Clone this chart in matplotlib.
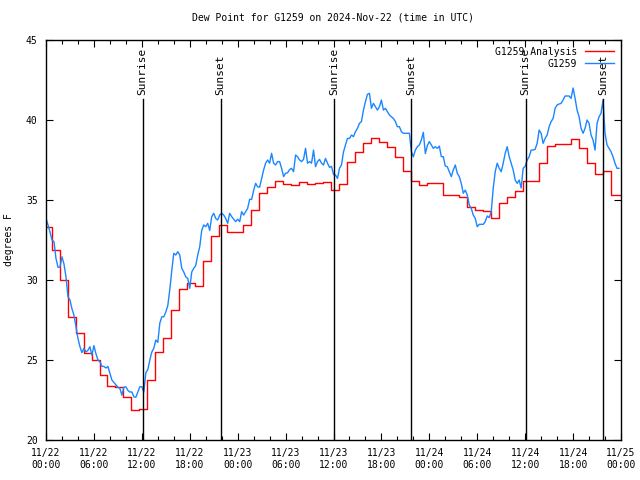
import pandas as pd
import matplotlib
matplotlib.use("Agg")
import matplotlib.pyplot as plt
import matplotlib.dates as mdates
import matplotlib.transforms as mtransforms

# G1259 station dew point, one reading every 15 minutes from 2024-11-22 00:00 UTC
station_dewpoint = [
    33.85, 33.44, 33.0, 32.5, 32.4, 31.35, 30.8, 30.8, 31.45, 31.0, 30.2, 28.96,
    28.75, 28.2, 27.8, 27.1, 26.35, 25.83, 25.46, 25.73, 25.5, 25.6, 25.83, 25.3,
    25.9, 25.4, 25.0, 24.9, 24.6, 24.6, 24.5, 24.6, 24.17, 23.75, 23.6, 23.44,
    23.3, 23.23, 22.8, 23.3, 23.33, 23.1, 23.0, 23.0, 22.7, 22.67, 23.0, 23.33,
    23.33, 23.0, 24.2, 24.4, 25.0, 25.5, 25.73, 26.25, 26.1, 27.3, 27.7, 27.7,
    28.0, 28.4, 29.4, 30.6, 31.67, 31.56, 31.77, 31.56, 30.73, 30.5, 30.2, 30.1,
    29.48, 30.5, 30.73, 30.9, 31.56, 32.08, 33.1, 33.44, 33.33, 33.54, 33.1, 33.96,
    34.17, 33.85, 33.75, 34.06, 34.17, 34.06, 33.85, 33.54, 34.17, 33.96, 33.8, 33.65,
    33.8, 33.65, 34.27, 34.06, 34.27, 34.48, 35.04, 35.04, 35.6, 36.04, 35.83, 35.8,
    36.35, 36.88, 37.3, 37.5, 37.3, 37.92, 37.3, 37.19, 37.4, 37.4, 36.98, 36.46,
    36.67, 36.7, 36.9, 36.98, 36.77, 37.81, 37.7, 37.5, 37.4, 37.54, 38.23, 37.3,
    37.4, 37.3, 38.12, 37.08, 37.4, 37.54, 37.3, 37.19, 37.6, 37.3, 37.04, 37.1,
    36.6, 36.56, 36.35, 36.98, 37.19, 38.0, 38.44, 38.85, 38.85, 39.06, 38.96, 39.27,
    39.48, 39.79, 39.9, 40.62, 41.15, 41.6, 41.67, 40.73, 41.04, 40.83, 40.62, 40.83,
    41.25, 40.62, 40.73, 40.52, 40.31, 40.2, 40.1, 39.9, 39.58, 39.58, 39.27, 39.17,
    39.17, 39.17, 39.17, 38.02, 37.7, 38.12, 38.33, 38.44, 38.75, 39.23, 37.9, 38.4,
    38.65, 38.44, 38.23, 38.33, 38.23, 38.37, 37.71, 37.71, 37.12, 37.08, 36.77, 36.46,
    36.88, 37.19, 36.67, 36.46, 36.04, 35.42, 35.62, 35.31, 34.69, 34.48, 34.06, 33.85,
    33.33, 33.48, 33.48, 33.48, 33.65, 34.0, 33.9, 34.27, 35.73, 36.77, 37.3, 36.98,
    36.77, 37.3, 37.92, 38.33, 37.71, 37.3, 36.88, 36.25, 36.04, 36.25, 35.75, 36.98,
    37.1, 37.5, 37.7, 38.12, 38.12, 38.17, 38.54, 39.37, 39.17, 38.54, 38.85, 39.06,
    39.58, 39.9, 40.1, 40.73, 40.94, 41.0, 41.04, 41.25, 41.5, 41.5, 41.5, 41.35,
    42.0, 41.35, 40.62, 40.2, 39.48, 39.17, 39.48, 40.0, 39.79, 39.06, 38.75, 38.12,
    39.79, 40.2, 40.42, 41.25, 39.17, 38.44, 38.23, 38.02, 37.7, 37.3, 36.98, 36.98,
]

# hourly analysis values (each holds until the next one)
analysis_dewpoint = [
    33.3, 31.9, 30.0, 27.7, 26.7, 25.45, 25.0, 24.05, 23.4, 23.3, 22.7, 21.9,
    21.95, 23.75, 25.5, 26.4, 28.1, 29.45, 29.8, 29.6, 31.2, 32.75, 33.45, 33.0,
    33.0, 33.45, 34.4, 35.45, 35.8, 36.2, 36.0, 35.95, 36.1, 36.0, 36.05, 36.1,
    35.6, 36.0, 37.4, 37.98, 38.54, 38.9, 38.6, 38.33, 37.7, 36.8, 36.2, 35.94,
    36.08, 36.04, 35.3, 35.3, 35.2, 34.58, 34.4, 34.3, 33.9, 34.83, 35.19, 35.56,
    36.2, 36.2, 37.3, 38.375, 38.5, 38.5, 38.8, 38.23, 37.33, 36.6, 36.83, 35.3,
    35.3,
]

sunrise_times = ["2024-11-22 12:06", "2024-11-23 12:04", "2024-11-24 12:04"]
sunset_times = ["2024-11-22 21:52", "2024-11-23 21:46", "2024-11-24 21:44"]

station_times = pd.date_range("2024-11-22 00:00", periods=len(station_dewpoint), freq="15min")
analysis_times = pd.date_range("2024-11-21 23:42", periods=len(analysis_dewpoint), freq="h")


def main():
    plt.rcParams["font.family"] = ["DejaVu Sans Mono"]
    plt.rcParams["font.size"] = 7

    fig = plt.figure(figsize=(6.4, 4.8), dpi=100)
    ax = fig.add_axes([46 / 640, 40 / 480, 575 / 640, 400 / 480])

    # extend last analysis value to the right edge
    a_times = list(analysis_times) + [pd.Timestamp("2024-11-25 00:00")]
    a_vals = list(analysis_dewpoint) + [analysis_dewpoint[-1]]
    ax.plot(a_times, a_vals, drawstyle="steps-post", color="#ff0000", lw=1.0,
            label="G1259 Analysis")
    ax.plot(station_times, station_dewpoint, color="#1a86ff", lw=1.0, label="G1259")

    trans = mtransforms.blended_transform_factory(ax.transData, ax.transAxes)
    for label, times in (("Sunrise", sunrise_times), ("Sunset", sunset_times)):
        for t in times:
            t = pd.Timestamp(t)
            ax.axvline(t, ymin=0, ymax=0.853, color="black", lw=1.0)
            ax.text(t, 0.862, label, rotation=90, ha="center", va="bottom",
                    transform=trans, fontsize=8)

    ax.set_xlim(pd.Timestamp("2024-11-22 00:00"), pd.Timestamp("2024-11-25 00:00"))
    ax.set_ylim(20, 45)
    ax.set_yticks([20, 25, 30, 35, 40, 45])
    ax.xaxis.set_major_locator(mdates.HourLocator(byhour=[0, 6, 12, 18]))
    ax.xaxis.set_minor_locator(mdates.HourLocator(interval=2))
    ax.xaxis.set_major_formatter(mdates.DateFormatter("%m/%d\n%H:%M"))
    ax.tick_params(which="both", direction="in", top=True, right=True, width=0.8)
    ax.tick_params(which="major", length=5)
    ax.tick_params(which="minor", length=3)
    ax.tick_params(axis="x", pad=6)
    ax.tick_params(axis="y", pad=6)
    for s in ax.spines.values():
        s.set_linewidth(1.0)

    ax.set_ylabel("degrees F", fontsize=7)
    ax.yaxis.set_label_coords(-0.055, 0.5)
    ax.set_title("Dew Point for G1259 on 2024-Nov-22 (time in UTC)", fontsize=7, pad=14)

    ax.legend(loc="upper right", frameon=False, markerfirst=False, handlelength=3.0,
              handletextpad=0.8, labelspacing=0.2, borderaxespad=0.3, fontsize=7)

    fig.savefig("out.png", dpi=100)
    plt.close(fig)


if __name__ == "__main__":
    main()
